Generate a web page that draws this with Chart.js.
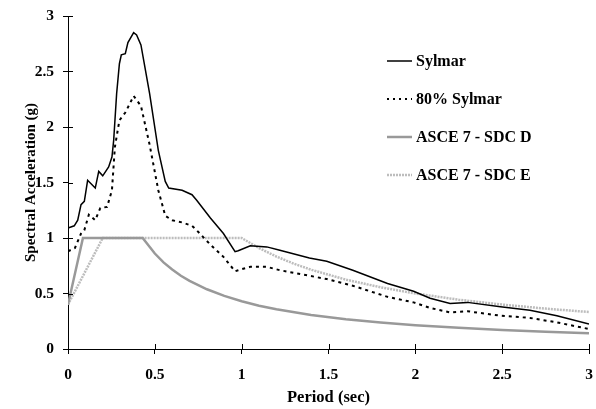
<!DOCTYPE html>
<html>
<head>
<meta charset="utf-8">
<script src="https://cdn.jsdelivr.net/npm/chart.js@4.4.1/dist/chart.umd.min.js"></script>
<style>
  html, body { margin: 0; padding: 0; background: #fff; }
  #wrap { position: relative; width: 596px; height: 409px; }
  #legend { position: absolute; left: 387px; top: 0; font: bold 16px "Liberation Serif", "Times New Roman", serif; color: #000; }
  .item { position: absolute; left: 0; height: 20px; display: flex; align-items: center; white-space: nowrap; }
  .item svg { margin-right: 4px; }
</style>
</head>
<body>
<div id="wrap">
  <canvas id="spectra" width="596" height="409" style="width:596px;height:409px"></canvas>
  <div id="legend"></div>
</div>
<script>
// period (sec) / spectral acceleration (g)
let sylmarT  = [0, 0.036, 0.056, 0.075, 0.094, 0.113, 0.157, 0.177, 0.2, 0.234, 0.253, 0.263, 0.28, 0.296, 0.307, 0.33, 0.345, 0.378, 0.395, 0.42, 0.47, 0.52, 0.56, 0.58, 0.657, 0.714, 0.741, 0.82, 0.895, 0.962, 0.98, 1.05, 1.145, 1.22, 1.39, 1.49, 1.64, 1.84, 1.99, 2.085, 2.2, 2.3, 2.49, 2.66, 2.815, 3.0];
let sylmarSa = [1.09, 1.11, 1.16, 1.30, 1.33, 1.52, 1.45, 1.60, 1.56, 1.64, 1.73, 1.88, 2.30, 2.57, 2.65, 2.66, 2.76, 2.85, 2.83, 2.74, 2.30, 1.79, 1.51, 1.45, 1.43, 1.39, 1.34, 1.18, 1.04, 0.877, 0.885, 0.93, 0.92, 0.89, 0.82, 0.79, 0.71, 0.59, 0.52, 0.457, 0.41, 0.42, 0.38, 0.35, 0.30, 0.225];

let s80T  = [0, 0.04, 0.075, 0.094, 0.12, 0.157, 0.186, 0.225, 0.253, 0.27, 0.296, 0.33, 0.378, 0.42, 0.47, 0.52, 0.56, 0.6, 0.657, 0.714, 0.741, 0.82, 0.895, 0.962, 0.98, 1.05, 1.145, 1.22, 1.39, 1.49, 1.64, 1.84, 1.99, 2.085, 2.2, 2.3, 2.49, 2.66, 2.815, 3.0];
let s80Sa = [0.88, 0.91, 1.04, 1.07, 1.21, 1.16, 1.27, 1.28, 1.43, 1.82, 2.06, 2.13, 2.28, 2.19, 1.84, 1.43, 1.20, 1.16, 1.14, 1.11, 1.07, 0.94, 0.83, 0.70, 0.71, 0.74, 0.74, 0.71, 0.66, 0.63, 0.57, 0.47, 0.42, 0.37, 0.33, 0.34, 0.30, 0.28, 0.24, 0.18];

let sdcDT  = [0, 0.086, 0.43, 0.5, 0.55, 0.6, 0.65, 0.7, 0.8, 0.9, 1.0, 1.1, 1.2, 1.4, 1.6, 1.8, 2.0, 2.25, 2.5, 2.75, 3.0];
let sdcDSa = [0.40, 1.0, 1.0, 0.86, 0.78, 0.717, 0.66, 0.614, 0.538, 0.478, 0.43, 0.39, 0.358, 0.307, 0.269, 0.239, 0.215, 0.191, 0.172, 0.156, 0.143];

let sdcET  = [0, 0.2, 1.0, 1.1, 1.2, 1.3, 1.4, 1.6, 1.8, 2.0, 2.25, 2.5, 2.75, 3.0];
let sdcESa = [0.40, 1.0, 1.0, 0.909, 0.833, 0.769, 0.714, 0.625, 0.556, 0.5, 0.444, 0.4, 0.364, 0.333];

let tickVals = [0, 0.5, 1, 1.5, 2, 2.5, 3];

function pts(t, v) {
    return t.map(function(x, i) { return { x: x, y: v[i] }; });
}

const serif = '"Liberation Serif", "Times New Roman", serif';

// short ticks on the inside of the axes too (the original ticks cross the axis)
const innerTicks = {
    id: 'innerTicks',
    afterDraw(chart) {
        let ctx = chart.ctx;
        let xs = chart.scales.x, ys = chart.scales.y;
        let area = chart.chartArea;
        ctx.save();
        ctx.strokeStyle = '#000';
        ctx.lineWidth = 1;
        ctx.beginPath();
        tickVals.forEach(function(v) {
            let y = Math.round(ys.getPixelForValue(v)) + 0.5;
            ctx.moveTo(area.left, y);
            ctx.lineTo(area.left + 5, y);
            let x = Math.round(xs.getPixelForValue(v)) + 0.5;
            ctx.moveTo(x, area.bottom);
            ctx.lineTo(x, area.bottom - 5);
        });
        ctx.stroke();
        ctx.restore();
    }
};

let datasets = [
    { label: 'Sylmar', data: pts(sylmarT, sylmarSa), borderColor: '#000', borderWidth: 1.5, legendDash: null },
    { label: '80% Sylmar', data: pts(s80T, s80Sa), borderColor: '#000', borderWidth: 2, borderDash: [3, 4], legendDash: '2,4' },
    { label: 'ASCE 7 - SDC D', data: pts(sdcDT, sdcDSa), borderColor: '#999999', borderWidth: 2.5, legendDash: null },
    { label: 'ASCE 7 - SDC E', data: pts(sdcET, sdcESa), borderColor: '#bdbdbd', borderWidth: 2.5, borderDash: [2, 1], legendDash: '2,1' }
];
datasets.forEach(function(d) {
    d.pointRadius = 0;
    d.tension = 0;
    d.fill = false;
});

function fmt(v) { return String(v); }

let chart = new Chart(document.getElementById('spectra').getContext('2d'), {
    type: 'line',
    data: { datasets: datasets },
    options: {
        responsive: false,
        animation: false,
        layout: { padding: { top: 16, right: 7, left: 0, bottom: 0 } },
        plugins: { legend: { display: false }, tooltip: { enabled: false } },
        scales: {
            x: {
                type: 'linear',
                min: 0, max: 3,
                afterFit: function(s) { s.height = 60; s.paddingLeft = 0; s.paddingRight = 0; },
                afterBuildTicks: function(s) { s.ticks = tickVals.map(function(v) { return { value: v }; }); },
                grid: { drawOnChartArea: false, drawTicks: true, tickLength: 5, color: '#000' },
                border: { color: '#000', width: 1 },
                ticks: { color: '#000', padding: 12, maxRotation: 0, callback: fmt, font: { family: serif, size: 15.5, weight: 'bold' } },
                title: { display: true, text: 'Period (sec)', color: '#000', padding: { top: 0, bottom: 1 }, font: { family: serif, size: 16.5, weight: 'bold' } }
            },
            y: {
                min: 0, max: 3,
                afterFit: function(s) { s.width = 68; s.paddingTop = 0; s.paddingBottom = 0; },
                afterBuildTicks: function(s) { s.ticks = tickVals.map(function(v) { return { value: v }; }); },
                grid: { drawOnChartArea: false, drawTicks: true, tickLength: 5, color: '#000' },
                border: { color: '#000', width: 1 },
                ticks: { color: '#000', padding: 9, callback: fmt, font: { family: serif, size: 15.5, weight: 'bold' } },
                title: { display: true, text: 'Spectral Acceleration (g)', color: '#000', padding: { top: 22, bottom: 0 }, font: { family: serif, size: 15, weight: 'bold' } }
            }
        }
    },
    plugins: [innerTicks]
});

// legend on the right, inside the plot
let rowMid = [61, 99, 137, 175];
let legend = document.getElementById('legend');
datasets.forEach(function(d, i) {
    let item = document.createElement('div');
    item.className = 'item';
    item.style.top = (rowMid[i] - 10) + 'px';
    let dash = d.legendDash ? ' stroke-dasharray="' + d.legendDash + '"' : '';
    item.innerHTML = '<svg width="25" height="6"><line x1="0" y1="3" x2="25" y2="3" stroke="' + d.borderColor +
        '" stroke-width="' + d.borderWidth + '"' + dash + '/></svg><span>' + d.label + '</span>';
    legend.appendChild(item);
});
</script>
</body>
</html>
